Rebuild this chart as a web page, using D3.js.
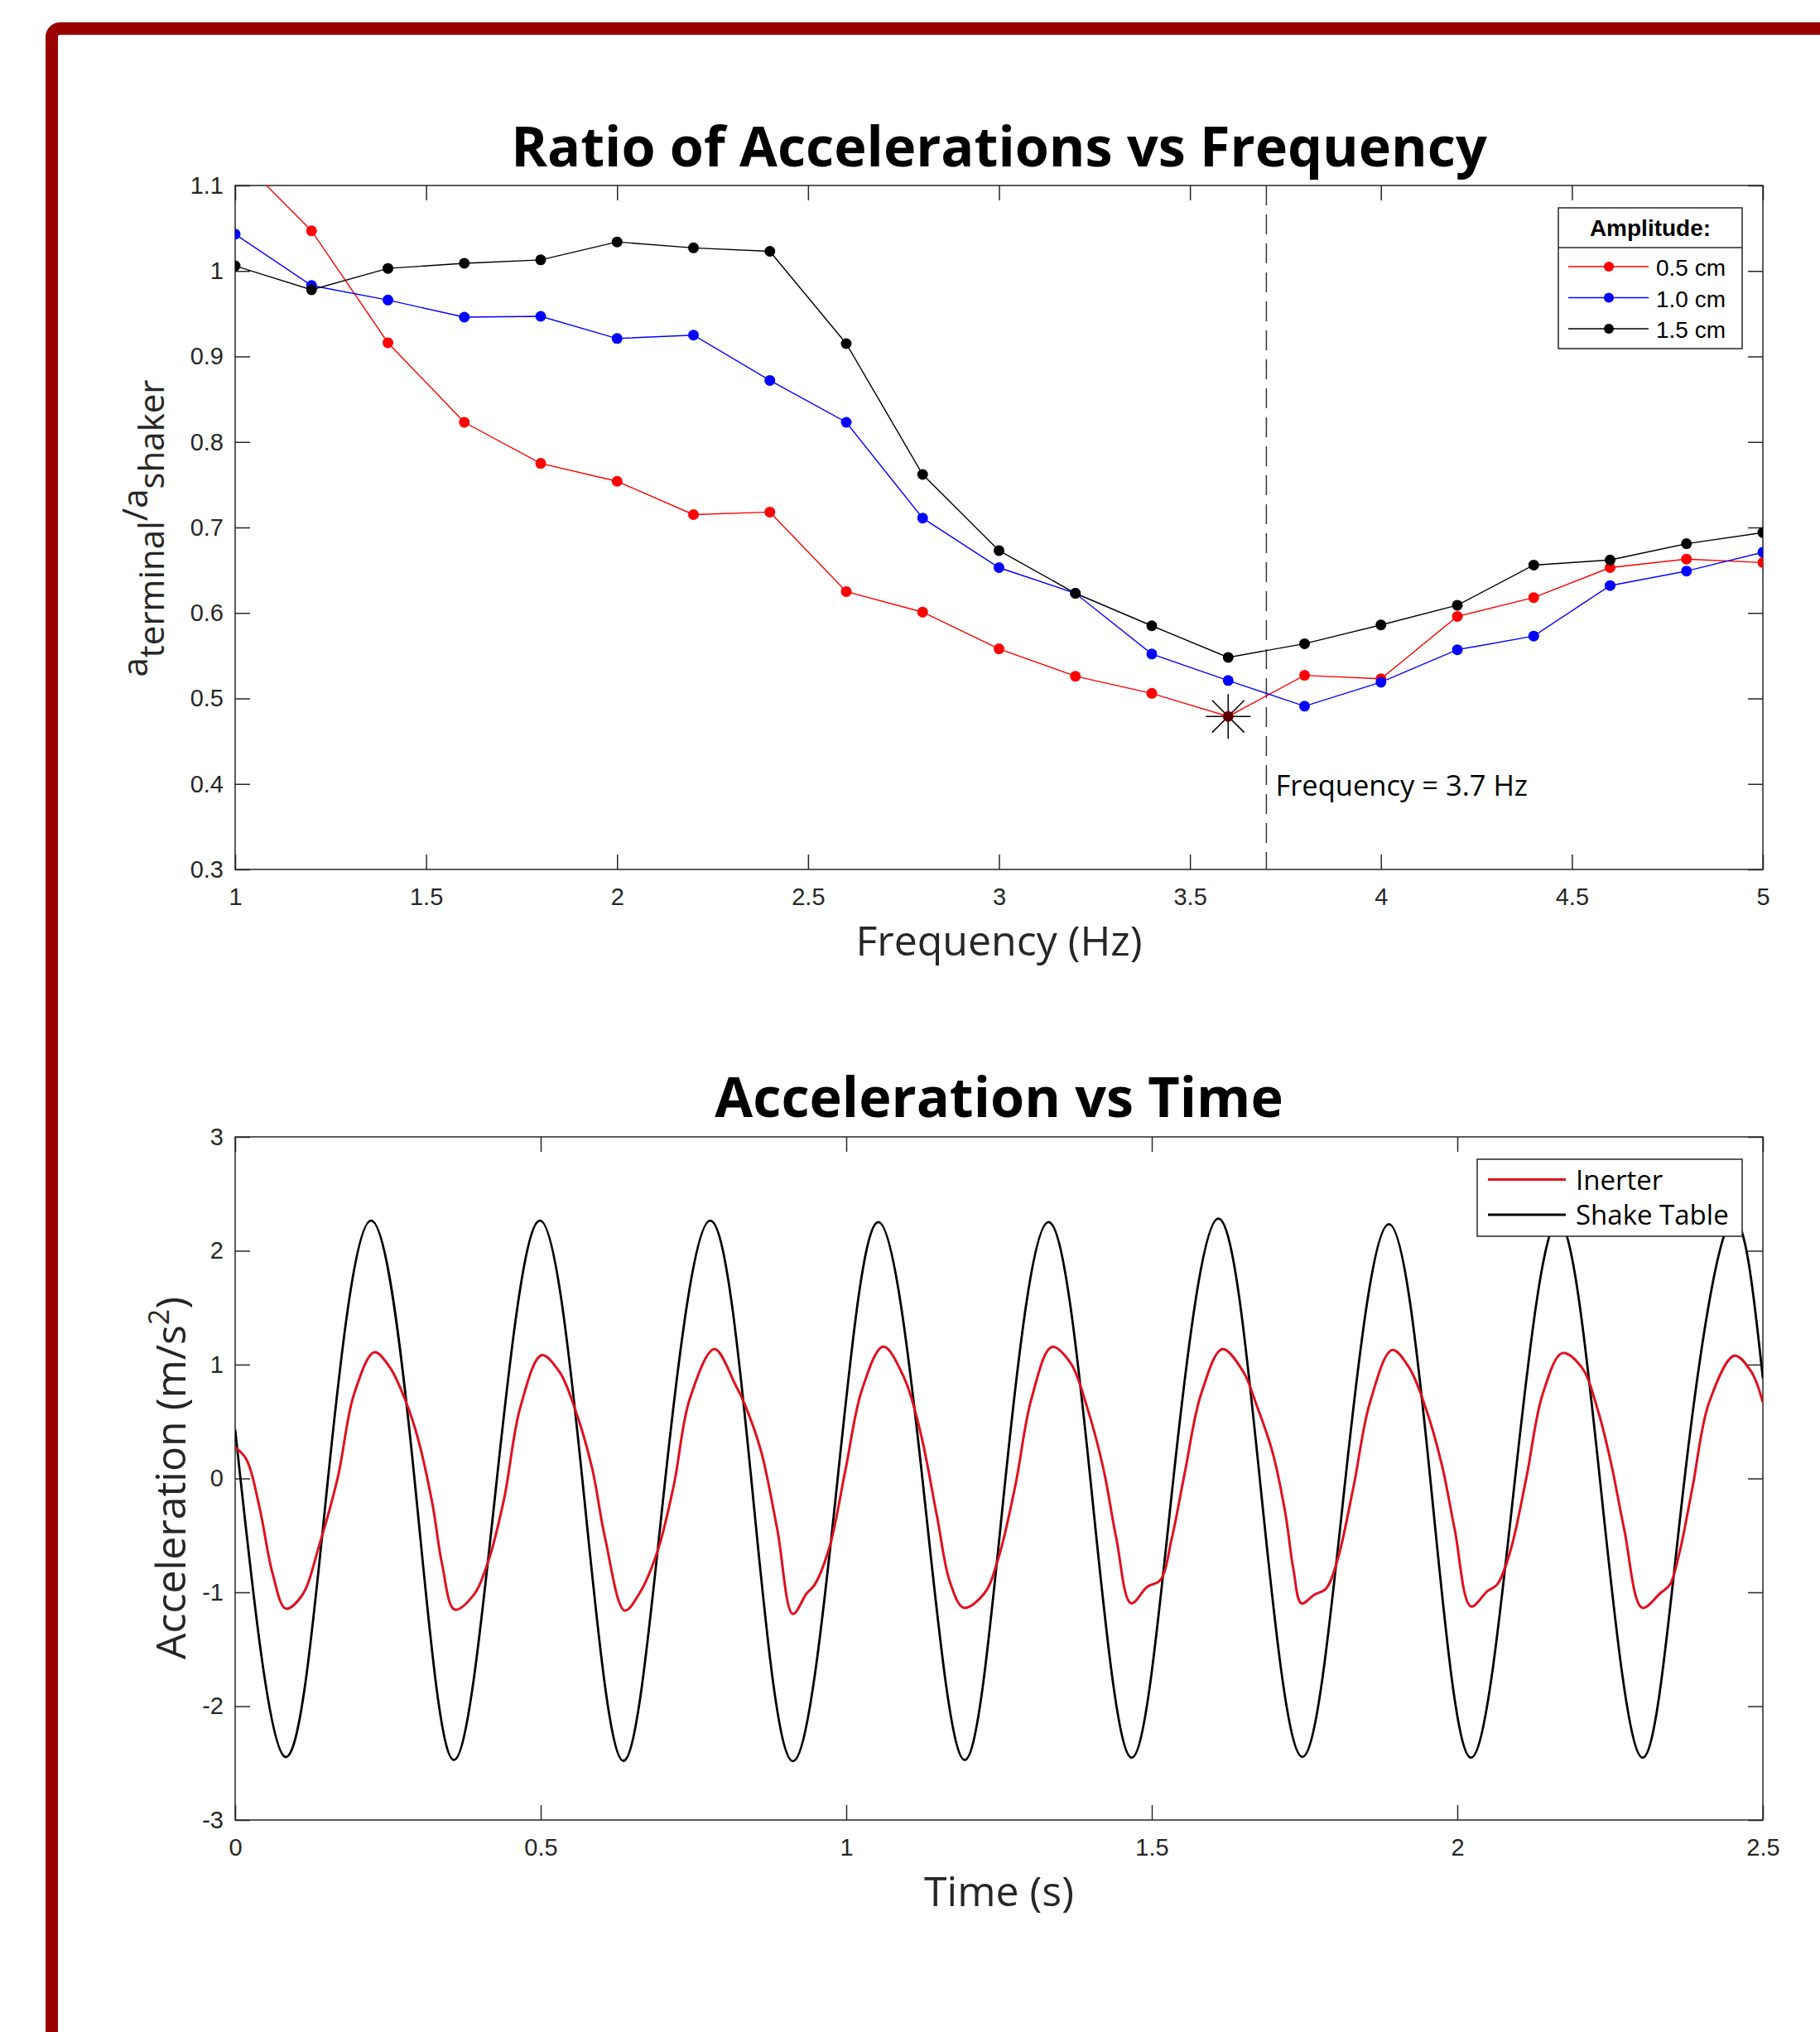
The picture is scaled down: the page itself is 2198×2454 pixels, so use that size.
<!DOCTYPE html>
<html>
<head>
<meta charset="utf-8">
<title>Ratio of Accelerations vs Frequency / Acceleration vs Time</title>
<script src="https://cdn.jsdelivr.net/npm/d3@7"></script>
<style>
  body { margin: 0; background: #fff; }
  svg { display: block; }
  .tick text { font-family: "Liberation Sans", Arial, sans-serif; font-size: 29px; fill: #262626; }
  .tick line { stroke: #262626; stroke-width: 1.5; }
  .title { font-family: "Open Sans", sans-serif; font-weight: 700; font-size: 66.5px; fill: #000; }
  .axis-label { font-family: "Open Sans", sans-serif; font-size: 50px; fill: #262626; }
</style>
</head>
<body>
<svg id="svg"></svg>
<script>
// ---------- top chart: ratio of accelerations ----------
const freqs = [1.0, 1.2, 1.4, 1.6, 1.8, 2.0, 2.2, 2.4, 2.6, 2.8, 3.0,
               3.2, 3.4, 3.6, 3.8, 4.0, 4.2, 4.4, 4.6, 4.8, 5.0]
const ratio05 = [1.137, 1.047, 0.916, 0.823, 0.775, 0.754, 0.715, 0.718, 0.625, 0.601, 0.558,
                 0.526, 0.506, 0.479, 0.527, 0.523, 0.596, 0.618, 0.653, 0.663, 0.659]
const ratio10 = [1.043, 0.983, 0.966, 0.946, 0.947, 0.921, 0.925, 0.872, 0.823, 0.711, 0.653,
                 0.623, 0.552, 0.521, 0.491, 0.519, 0.557, 0.573, 0.632, 0.649, 0.671]
const ratio15 = [1.006, 0.978, 1.003, 1.009, 1.013, 1.034, 1.027, 1.023, 0.915, 0.762, 0.673,
                 0.623, 0.585, 0.548, 0.564, 0.586, 0.609, 0.656, 0.662, 0.681, 0.694]
const amplitudes = ['0.5 cm', '1.0 cm', '1.5 cm']
const ampColors = ['#ff0000', '#0000ff', '#000000']
const minFreq = 3.6, minRatio = 0.479
const resonance = 3.7
const freqTicks = [1, 1.5, 2, 2.5, 3, 3.5, 4, 4.5, 5]
const ratioTicks = [0.3, 0.4, 0.5, 0.6, 0.7, 0.8, 0.9, 1.0, 1.1]

// ---------- bottom chart: acceleration vs time ----------
const shakeTime = [0, 0.0816, 0.152, 0.2225, 0.2934, 0.358, 0.4284, 0.4988, 0.568, 0.6354,
                   0.704, 0.7774, 0.8445, 0.9127, 0.986, 1.0526, 1.1246, 1.1939, 1.2606, 1.331,
                   1.3994, 1.4671, 1.5354, 1.609, 1.6767, 1.7466, 1.817, 1.888, 1.9557, 2.0224,
                   2.0945, 2.165, 2.2332, 2.3036, 2.3719, 2.448, 2.5]
const shakeAccel = [0.43, -2.445, 0, 2.264, 0, -2.472, 0, 2.264, 0, -2.48,
                    0, 2.264, 0, -2.483, 0, 2.252, 0, -2.472, 0, 2.252,
                    0, -2.452, 0, 2.283, 0, -2.445, 0, 2.233, 0, -2.452,
                    0, 2.26, 0, -2.452, 0, 2.26, 0.88]
const inerterTime = [0, 0.0186, 0.040, 0.0613, 0.0827, 0.1093, 0.1387, 0.168, 0.1947, 0.2278,
                     0.2534, 0.280, 0.2988, 0.3227, 0.3388, 0.359, 0.3895, 0.4135, 0.440, 0.4668,
                     0.5015, 0.5308, 0.5575, 0.5842, 0.6055, 0.6376, 0.6616, 0.6909, 0.7176, 0.7443,
                     0.7843, 0.8189, 0.834, 0.8605, 0.8872, 0.9127, 0.9352, 0.9485, 0.9725, 0.9992,
                     1.0259, 1.0606, 1.0952, 1.1219, 1.1486, 1.1699, 1.1924, 1.226, 1.25, 1.2766,
                     1.3033, 1.3364, 1.3673, 1.394, 1.4207, 1.442, 1.4661, 1.4927, 1.514, 1.5327,
                     1.554, 1.5808, 1.6154, 1.65, 1.6704, 1.697, 1.7183, 1.7317, 1.745, 1.7663,
                     1.785, 1.8037, 1.8304, 1.857, 1.8933, 1.9211, 1.9477, 1.9744, 1.9958, 2.0224,
                     2.0491, 2.0651, 2.0865, 2.1131, 2.1398, 2.1718, 2.2038, 2.2305, 2.2519, 2.2732,
                     2.3026, 2.3319, 2.3479, 2.3639, 2.3853, 2.4119, 2.4535, 2.4813, 2.5]
const inerterAccel = [0.273, 0.166, -0.258, -0.836, -1.143, -1.028, -0.566, 0.01, 0.743, 1.109,
                      0.974, 0.666, 0.358, -0.22, -0.758, -1.151, -1.028, -0.739, -0.181, 0.628,
                      1.082, 0.935, 0.589, 0.089, -0.527, -1.16, -1.009, -0.643, -0.065, 0.705,
                      1.136, 0.82, 0.65, 0.242, -0.45, -1.19, -1.009, -0.932, -0.604, 0.089,
                      0.782, 1.159, 0.878, 0.396, -0.335, -0.913, -1.136, -1.009, -0.681, -0.065,
                      0.705, 1.155, 1.012, 0.628, 0.089, -0.527, -1.097, -0.951, -0.893, -0.527,
                      0.05, 0.743, 1.136, 0.935, 0.66, 0.242, -0.297, -0.797, -1.097, -1.02,
                      -0.969, -0.72, -0.065, 0.666, 1.128, 0.974, 0.628, 0.127, -0.45, -1.124,
                      -0.99, -0.932, -0.643, 0.01, 0.743, 1.101, 0.974, 0.589, 0.127, -0.45,
                      -1.136, -1.009, -0.932, -0.643, -0.065, 0.666, 1.078, 0.935, 0.666]
const seriesNames = ['Inerter', 'Shake Table']
const seriesColors = ['#e0101e', '#000000']
const timeTicks = [0, 0.5, 1, 1.5, 2, 2.5]
const accelTicks = [-3, -2, -1, 0, 1, 2, 3]

const W = 2198, H = 2454
const axisColor = '#262626'

let svg = d3.select('#svg').attr('width', W).attr('height', H)
svg.append('rect').attr('width', W).attr('height', H).attr('fill', '#fff')

// dark red frame round the page
svg.append('rect')
    .attr('x', 62.5).attr('y', 34.5)
    .attr('width', 2400).attr('height', 2600)
    .attr('rx', 10)
    .attr('fill', 'none')
    .attr('stroke', '#990000')
    .attr('stroke-width', 15)

const fmt = d => String(+d.toFixed(2))

// box plus inward ticks on all four sides
function drawFrame(g, x, y, xTicks, yTicks, id) {
    const [x0, x1] = x.range(), [y0, y1] = y.range()
    g.append('clipPath').attr('id', id)
        .append('rect').attr('x', x0).attr('y', y1).attr('width', x1 - x0).attr('height', y0 - y1)

    g.append('g').attr('transform', `translate(0,${y0})`)
        .call(d3.axisBottom(x).tickValues(xTicks).tickSizeInner(-18).tickSizeOuter(0).tickPadding(22).tickFormat(fmt))
    g.append('g').attr('transform', `translate(0,${y1})`)
        .call(d3.axisTop(x).tickValues(xTicks).tickSizeInner(-18).tickSizeOuter(0).tickFormat(''))
    g.append('g').attr('transform', `translate(${x0},0)`)
        .call(d3.axisLeft(y).tickValues(yTicks).tickSizeInner(-18).tickSizeOuter(0).tickPadding(14).tickFormat(fmt))
    g.append('g').attr('transform', `translate(${x1},0)`)
        .call(d3.axisRight(y).tickValues(yTicks).tickSizeInner(-18).tickSizeOuter(0).tickFormat(''))
    g.selectAll('.domain').remove()

    g.append('rect')
        .attr('x', x0).attr('y', y1).attr('width', x1 - x0).attr('height', y0 - y1)
        .attr('fill', 'none').attr('stroke', axisColor).attr('stroke-width', 1.5)
}

// ================= top chart =================
const x1s = d3.scaleLinear().domain([1, 5]).range([284, 2129])
const y1s = d3.scaleLinear().domain([0.3, 1.1]).range([1050, 224])
const topG = svg.append('g')
drawFrame(topG, x1s, y1s, freqTicks, ratioTicks, 'clipTop')

// dashed line at resonance
topG.append('line')
    .attr('x1', x1s(resonance)).attr('x2', x1s(resonance))
    .attr('y1', y1s(1.1)).attr('y2', y1s(0.3))
    .attr('stroke', '#333').attr('stroke-width', 1.5)
    .attr('stroke-dasharray', '24,11')

const ratioSeries = [ratio05, ratio10, ratio15]
const ratioLine = d3.line().x((d, i) => x1s(freqs[i])).y(d => y1s(d))
const plotTop = topG.append('g').attr('clip-path', 'url(#clipTop)')
ratioSeries.forEach((vals, k) => {
    plotTop.append('path')
        .attr('d', ratioLine(vals))
        .attr('fill', 'none')
        .attr('stroke', ampColors[k])
        .attr('stroke-width', 1.4)
    plotTop.selectAll(null)
        .data(vals)
        .enter()
        .append('circle')
        .attr('cx', (d, i) => x1s(freqs[i]))
        .attr('cy', d => y1s(d))
        .attr('r', 6.5)
        .attr('fill', ampColors[k])
})

// asterisk at the minimum
const sx = x1s(minFreq), sy = y1s(minRatio), s = 27, sd = s * 0.72
topG.append('path')
    .attr('d', `M${sx},${sy - s}V${sy + s}M${sx - s},${sy}H${sx + s}` +
        `M${sx - sd},${sy - sd}L${sx + sd},${sy + sd}M${sx - sd},${sy + sd}L${sx + sd},${sy - sd}`)
    .attr('stroke', '#000').attr('stroke-width', 1.5)
topG.append('circle').attr('cx', sx).attr('cy', sy).attr('r', 6).attr('fill', '#5a0000')

topG.append('text')
    .attr('x', x1s(resonance) + 11).attr('y', 961)
    .style('font-family', '"Open Sans", sans-serif').style('font-size', '34.5px').attr('fill', '#000')
    .text('Frequency = ' + resonance + ' Hz')

topG.append('text').attr('class', 'title')
    .attr('x', (284 + 2129) / 2).attr('y', 201).attr('text-anchor', 'middle')
    .text('Ratio of Accelerations vs Frequency')
topG.append('text').attr('class', 'axis-label')
    .attr('x', (284 + 2129) / 2).attr('y', 1154).attr('text-anchor', 'middle')
    .text('Frequency (Hz)')

let yl = topG.append('text')
    .attr('transform', 'translate(178,638) rotate(-90)')
    .attr('text-anchor', 'middle')
    .style('font-family', '"Open Sans", sans-serif').style('font-size', '42px').attr('fill', '#262626')
yl.append('tspan').text('a')
yl.append('tspan').attr('dy', 20).text('terminal')
yl.append('tspan').attr('dy', -20).text('/a')
yl.append('tspan').attr('dy', 20).text('shaker')

// legend
const lg = topG.append('g').attr('transform', 'translate(1882,251)')
lg.append('rect').attr('width', 222).attr('height', 170)
    .attr('fill', '#fff').attr('stroke', axisColor).attr('stroke-width', 1.5)
lg.append('line').attr('x1', 0).attr('x2', 222).attr('y1', 48).attr('y2', 48)
    .attr('stroke', axisColor).attr('stroke-width', 1.5)
lg.append('text').attr('x', 111).attr('y', 34).attr('text-anchor', 'middle')
    .style('font-family', '"Liberation Sans", Arial, sans-serif').style('font-size', '28px')
    .style('font-weight', 700).text('Amplitude:')
amplitudes.forEach((name, k) => {
    const yy = 71 + k * 37.5
    lg.append('line').attr('x1', 12).attr('x2', 109).attr('y1', yy).attr('y2', yy)
        .attr('stroke', ampColors[k]).attr('stroke-width', 1.4)
    lg.append('circle').attr('cx', 61).attr('cy', yy).attr('r', 6).attr('fill', ampColors[k])
    lg.append('text').attr('x', 118).attr('y', yy + 11)
        .style('font-family', '"Liberation Sans", Arial, sans-serif').style('font-size', '28px')
        .attr('fill', '#000').text(name)
})

// ================= bottom chart =================
const x2s = d3.scaleLinear().domain([0, 2.5]).range([284, 2129])
const y2s = d3.scaleLinear().domain([-3, 3]).range([2198, 1373])
const botG = svg.append('g')
drawFrame(botG, x2s, y2s, timeTicks, accelTicks, 'clipBot')

const plotBot = botG.append('g').attr('clip-path', 'url(#clipBot)')
plotBot.append('path')
    .attr('d', d3.line().curve(d3.curveNatural)
        .x((d, i) => x2s(shakeTime[i])).y(d => y2s(d))(shakeAccel))
    .attr('fill', 'none').attr('stroke', seriesColors[1]).attr('stroke-width', 2.8)
plotBot.append('path')
    .attr('d', d3.line().curve(d3.curveCatmullRom.alpha(0.5))
        .x((d, i) => x2s(inerterTime[i])).y(d => y2s(d))(inerterAccel))
    .attr('fill', 'none').attr('stroke', seriesColors[0]).attr('stroke-width', 3)

botG.append('text').attr('class', 'title')
    .attr('x', (284 + 2129) / 2).attr('y', 1349).attr('text-anchor', 'middle')
    .text('Acceleration vs Time')
botG.append('text').attr('class', 'axis-label')
    .attr('x', (284 + 2129) / 2).attr('y', 2302).attr('text-anchor', 'middle')
    .text('Time (s)')
let yl2 = botG.append('text').attr('class', 'axis-label')
    .attr('transform', 'translate(224,1785) rotate(-90)')
    .attr('text-anchor', 'middle')
yl2.append('tspan').text('Acceleration (m/s')
yl2.append('tspan').attr('dy', -20).style('font-size', '34px').text('2')
yl2.append('tspan').attr('dy', 20).text(')')

// legend
const lg2 = botG.append('g').attr('transform', 'translate(1784,1400)')
lg2.append('rect').attr('width', 320).attr('height', 93)
    .attr('fill', '#fff').attr('stroke', axisColor).attr('stroke-width', 1.5)
seriesNames.forEach((name, k) => {
    const yy = 24.5 + k * 42.5
    lg2.append('line').attr('x1', 13).attr('x2', 107).attr('y1', yy).attr('y2', yy)
        .attr('stroke', seriesColors[k]).attr('stroke-width', 2.8)
    lg2.append('text').attr('x', 119).attr('y', yy + 12)
        .style('font-family', '"Open Sans", sans-serif').style('font-size', '33px')
        .attr('fill', '#000').text(name)
})
</script>
</body>
</html>
